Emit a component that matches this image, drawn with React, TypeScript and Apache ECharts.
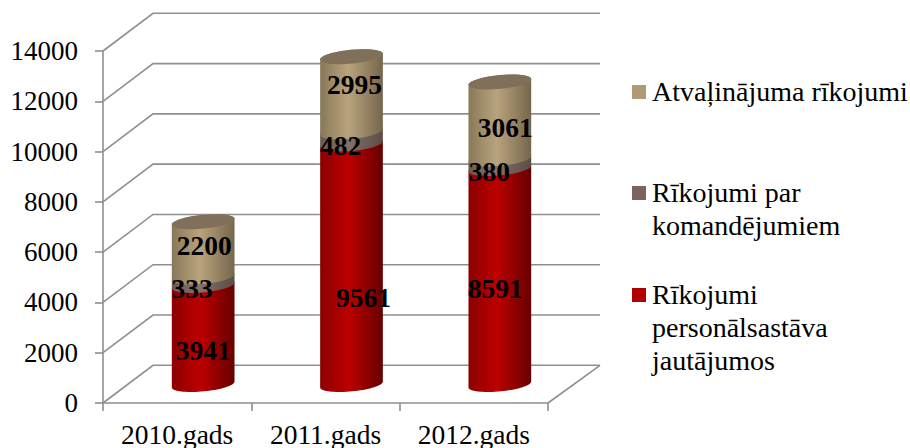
import React, { useEffect, useRef } from "react";
import * as echarts from "echarts";

const categories = ["2010.gads", "2011.gads", "2012.gads"];
const tickValues = [0, 2000, 4000, 6000, 8000, 10000, 12000, 14000];
const personnelOrders = [3941, 9561, 8591];
const tripOrders = [333, 482, 380];
const leaveOrders = [2200, 2995, 3061];
const seriesNames = ["Rīkojumi\npersonālsastāva\njautājumos", "Rīkojumi par\nkomandējumiem", "Atvaļinājuma rīkojumi"];

// Layout constants
const FONT = '"Liberation Serif", "Times New Roman", serif';
const GRID = { left: 103, right: 362, top: 51, bottom: 45 };
const DEPTH_X = 50;
const DEPTH_Y = -37.7;
const BAR_DX = 26;
const BAR_DY = -18.5;
const RX = 31.5;
const RY = 6.9;
const TILT = (5.5 * Math.PI) / 180;
const GRID_COLOR = "#8f8f8f";

// Hand placement of the data labels relative to each segment's centre: [dx, dy] per category
const labelNudge = [
  [[0, 15.7], [12, 33], [-4.5, 12.5]],
  [[-11, 7], [-11, 7], [-10.5, 8]],
  [[1, -3.5], [3, -9.5], [5.5, 7.5]],
];

const gradient = (l: string, c: string, r: string) =>
  new echarts.graphic.LinearGradient(0, 0, 1, 0, [
    { offset: 0, color: l },
    { offset: 0.45, color: c },
    { offset: 1, color: r },
  ]);

const fills = [
  () => gradient("#8c0000", "#bc0000", "#680000"),
  () => gradient("#6c5a52", "#82706a", "#5c4c45"),
  () => gradient("#887859", "#b9a37d", "#75664c"),
];
const legendColors = ["#b00000", "#7a655c", "#b09a75"];

function arc(cx: number, cy: number, from: number, to: number) {
  const pts: number[][] = [];
  const n = 36;
  for (let i = 0; i <= n; i++) {
    const t = from + ((to - from) * i) / n;
    const u = RX * Math.cos(t);
    const v = RY * Math.sin(t);
    pts.push([cx + u * Math.cos(TILT) + v * Math.sin(TILT), cy - u * Math.sin(TILT) + v * Math.cos(TILT)]);
  }
  return pts;
}

function makeSegmentSeries(stackIndex: number, values: number[], below: number[]) {
  return {
    type: "custom",
    name: seriesNames[stackIndex],
    coordinateSystem: "cartesian2d",
    clip: false,
    silent: true,
    z: 3,
    data: values.map((v, i) => [i, below[i], below[i] + v, v]),
    renderItem: (_p: any, api: any) => {
      const idx = api.value(0);
      const start = api.value(1);
      const end = api.value(2);
      const value = api.value(3);
      const [x0, y0] = api.coord([idx, start]);
      const [, y1] = api.coord([idx, end]);
      const cx = x0 + BAR_DX;
      const yb = y0 + BAR_DY;
      const yt = y1 + BAR_DY;
      const children: any[] = [
        {
          type: "polygon",
          shape: { points: [...arc(cx, yb, 0, Math.PI), ...arc(cx, yt, Math.PI, 2 * Math.PI)] },
          style: { fill: fills[stackIndex]() },
        },
      ];
      if (stackIndex === 2) {
        children.push({
          type: "polygon",
          shape: { points: arc(cx, yt, 0, 2 * Math.PI) },
          style: { fill: "#80705a" },
        });
      }
      const [ndx, ndy] = labelNudge[stackIndex][idx];
      children.push({
        type: "text",
        z2: 50,
        x: cx + ndx,
        y: (yb + yt) / 2 + ndy,
        style: {
          text: String(value),
          fontFamily: FONT,
          fontWeight: "bold",
          fontSize: 27.5,
          fill: "#000",
          align: "center",
          verticalAlign: "middle",
        },
      });
      return { type: "group", children };
    },
  };
}

function sumArrays(...arrs: number[][]) {
  return arrs[0].map((_, i) => arrs.reduce((s, a) => s + a[i], 0));
}

export default function App() {
  const ref = useRef<HTMLDivElement>(null);
  useEffect(() => {
    const chart = echarts.init(ref.current!, undefined, { renderer: "svg" });
    const gridSeries = {
      type: "custom",
      coordinateSystem: "cartesian2d",
      clip: false,
      silent: true,
      z: 1,
      data: tickValues.map((v) => [0, v]),
      renderItem: (p: any, api: any) => {
        const cs = p.coordSys;
        const [, y] = api.coord([0, api.value(1)]);
        const isFloor = api.value(1) === 0;
        const children: any[] = [
          {
            type: "polyline",
            shape: {
              points: [
                [cs.x, y],
                [cs.x + DEPTH_X, y + DEPTH_Y],
                [cs.x + cs.width + DEPTH_X + 2, y + DEPTH_Y],
              ],
            },
            style: { stroke: GRID_COLOR, lineWidth: 1.6, fill: "none" },
          },
        ];
        if (isFloor) {
          children.push({
            type: "line",
            shape: { x1: cs.x + cs.width, y1: y, x2: cs.x + cs.width + DEPTH_X + 2, y2: y + DEPTH_Y },
            style: { stroke: GRID_COLOR, lineWidth: 1.6 },
          });
        }
        return { type: "group", children };
      },
    };

    const legendY = [92, 193, 295];
    const legendOrder = [2, 1, 0];
    const lh = 32.7;
    const legendGraphics: any[] = [];
    legendOrder.forEach((s, i) => {
      legendGraphics.push({
        type: "rect",
        shape: { x: 632, y: legendY[i] - 7, width: 14, height: 14 },
        style: { fill: legendColors[s] },
      });
      legendGraphics.push({
        type: "text",
        x: 652,
        y: legendY[i] - lh / 2,
        style: {
          text: seriesNames[s],
          fontFamily: FONT,
          fontSize: 28,
          lineHeight: lh,
          fill: "#000",
          align: "left",
          verticalAlign: "top",
        },
      });
    });

    chart.setOption({
      animation: false,
      backgroundColor: "#ffffff",
      grid: { ...GRID, containLabel: false, outerBoundsMode: "none" },
      graphic: legendGraphics,
      xAxis: {
        type: "category",
        data: categories,
        axisLine: { lineStyle: { color: GRID_COLOR, width: 1.6 } },
        axisTick: { show: true, interval: 0, length: 8, lineStyle: { color: GRID_COLOR, width: 1.6 } },
        axisLabel: { color: "#000", fontFamily: FONT, fontSize: 27.5, margin: 17, interval: 0, hideOverlap: false },
        splitLine: { show: false },
      },
      yAxis: {
        type: "value",
        min: 0,
        max: 14000,
        interval: 2000,
        axisLine: { show: true, lineStyle: { color: GRID_COLOR, width: 1.6 } },
        axisTick: { show: true, length: 8, lineStyle: { color: GRID_COLOR, width: 1.6 } },
        axisLabel: { color: "#000", fontFamily: FONT, fontSize: 27, margin: 25, formatter: (v: number) => String(v) },
        splitLine: { show: false },
      },
      series: [
        gridSeries,
        makeSegmentSeries(0, personnelOrders, personnelOrders.map(() => 0)),
        makeSegmentSeries(1, tripOrders, personnelOrders),
        makeSegmentSeries(2, leaveOrders, sumArrays(personnelOrders, tripOrders)),
      ],
    });
    return () => chart.dispose();
  }, []);
  return <div ref={ref} style={{ position: "absolute", left: 0, top: 0, width: 910, height: 448 }} />;
}
